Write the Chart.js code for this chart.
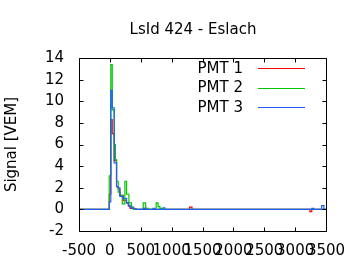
<!DOCTYPE html>
<html>
<head>
<meta charset="utf-8">
<script src="https://cdn.jsdelivr.net/npm/chart.js@4/dist/chart.umd.min.js"></script>
<style>
html,body{margin:0;padding:0;background:#fff;}
#wrap{width:360px;height:270px;position:relative;}
</style>
</head>
<body>
<div id="wrap"><canvas id="c" width="360" height="270"></canvas></div>
<script>
const chartTitle = 'LsId 424 - Eslach';
const yAxisTitle = 'Signal [VEM]';
const seriesNames = ['PMT 1', 'PMT 2', 'PMT 3'];
const seriesColors = ['#ff0000', '#00c800', '#1f5cff'];
const xTickValues = [-500, 0, 500, 1000, 1500, 2000, 2500, 3000, 3500];
const yTickValues = [-2, 0, 2, 4, 6, 8, 10, 12, 14];

// time [ns] at which each step starts, and signal [VEM] held from there
const pmt1Time   = [-500, -10, 15, 38, 70, 108, 135, 162, 216, 270, 300, 330, 400, 560, 590, 1290, 1330, 3240, 3270, 3500];
const pmt1Signal = [0, 1.4, 8.3, 7.0, 4.5, 2.1, 1.9, 1.3, 0.8, 0.6, 0.3, 0.1, 0, 0.1, 0, 0.2, 0, -0.2, 0, 0];

const pmt2Time   = [-500, -10, 15, 38, 70, 90, 108, 135, 165, 200, 243, 270, 308, 350, 380, 540, 580, 620, 750, 780, 810, 840, 3500];
const pmt2Signal = [0, 3.1, 13.4, 9.2, 6.0, 4.6, 2.6, 1.6, 1.3, 0.5, 2.6, 1.4, 0.6, 0.2, 0, 0.6, 0.1, 0, 0.6, 0.25, 0.1, 0, 0];

const pmt3Time   = [-500, -10, 15, 38, 70, 108, 135, 162, 216, 270, 300, 324, 360, 400, 430, 540, 570, 700, 730, 860, 890, 3270, 3300, 3430, 3466, 3500];
const pmt3Signal = [0, 0.7, 11.0, 9.4, 4.3, 2.1, 2.0, 1.2, 1.0, 0.6, 0.4, 0.2, 0.1, 0.05, 0, 0.1, 0, 0.1, 0, 0.15, 0, 0.1, 0, 0.35, 0, 0];

const times = [pmt1Time, pmt2Time, pmt3Time];
const signals = [pmt1Signal, pmt2Signal, pmt3Signal];

const FONT = 'DejaVu Sans';

const datasets = seriesNames.map((name, i) => ({
  label: name,
  data: times[i].map((t, k) => ({x: t, y: signals[i][k]})),
  borderColor: seriesColors[i],
  backgroundColor: seriesColors[i],
  borderWidth: 1.2,
  pointRadius: 0,
  stepped: 'before',
  fill: false,
  order: 2 - i
}));

const framePlugin = {
  id: 'frame',
  afterDraw(chart) {
    const ctx = chart.ctx;
    const a = chart.chartArea;
    const xs = chart.scales.x, ys = chart.scales.y;
    ctx.save();
    ctx.strokeStyle = '#000';
    ctx.lineWidth = 1;
    ctx.beginPath();
    const L = Math.round(a.left) + 0.5, R = Math.round(a.right) + 0.5;
    const T = Math.round(a.top) + 0.5, B = Math.round(a.bottom) + 0.5;
    ctx.rect(L, T, R - L, B - T);
    const tl = 4;
    xTickValues.forEach(v => {
      const px = Math.round(xs.getPixelForValue(v)) + 0.5;
      ctx.moveTo(px, B); ctx.lineTo(px, B - tl);
      ctx.moveTo(px, T); ctx.lineTo(px, T + tl);
    });
    yTickValues.forEach(v => {
      const py = Math.round(ys.getPixelForValue(v)) + 0.5;
      ctx.moveTo(L, py); ctx.lineTo(L + tl, py);
      ctx.moveTo(R, py); ctx.lineTo(R - tl, py);
    });
    ctx.stroke();

    // title
    ctx.fillStyle = '#000';
    ctx.font = '15px "' + FONT + '"';
    ctx.textAlign = 'center';
    ctx.textBaseline = 'alphabetic';
    ctx.fillText(chartTitle, 193, 34);

    // legend
    ctx.textAlign = 'right';
    ctx.textBaseline = 'middle';
    chart.data.datasets.forEach((ds, i) => {
      const y = 68 + i * 19.5;
      ctx.fillStyle = '#000';
      ctx.fillText(ds.label, 243, y + 1);
      ctx.strokeStyle = ds.borderColor;
      ctx.beginPath();
      ctx.moveTo(258, Math.round(y) + 0.5);
      ctx.lineTo(305, Math.round(y) + 0.5);
      ctx.stroke();
    });
    ctx.restore();
  }
};

new Chart(document.getElementById('c'), {
  type: 'line',
  data: { datasets },
  options: {
    responsive: false,
    animation: false,
    devicePixelRatio: 1,
    layout: { padding: { top: 58, right: 34, bottom: 0, left: 0 } },
    plugins: { legend: { display: false }, title: { display: false }, tooltip: { enabled: false } },
    scales: {
      x: {
        type: 'linear',
        min: -500, max: 3500,
        afterBuildTicks(s) { s.ticks = xTickValues.map(v => ({value: v})); },
        grid: { display: false, drawTicks: false },
        border: { display: false },
        ticks: {
          autoSkip: false, maxRotation: 0, minRotation: 0,
          padding: 11, color: '#000',
          font: { family: FONT, size: 15 },
          callback: v => String(v)
        },
        afterFit(s) { s.height = 39; }
      },
      y: {
        type: 'linear',
        min: -2, max: 14,
        afterBuildTicks(s) { s.ticks = yTickValues.map(v => ({value: v})); },
        grid: { display: false, drawTicks: false },
        border: { display: false },
        ticks: {
          padding: 15, color: '#000',
          font: { family: FONT, size: 15 },
          callback: v => String(v)
        },
        title: {
          display: true, text: yAxisTitle, color: '#000',
          font: { family: FONT, size: 15 },
          padding: { top: 3, bottom: 0 }
        },
        afterFit(s) { s.width = 79; }
      }
    }
  },
  plugins: [framePlugin]
});
</script>
</body>
</html>
